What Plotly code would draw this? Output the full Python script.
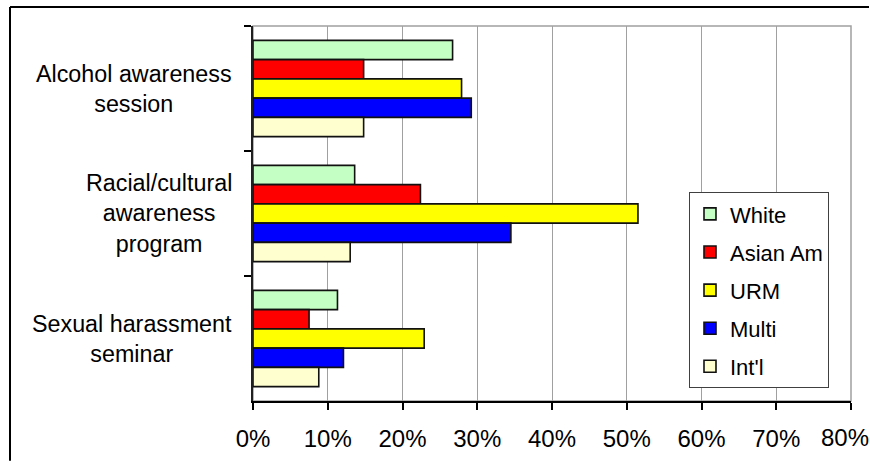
import plotly.graph_objects as go

categories = ["Alcohol awareness session", "Racial/cultural awareness program", "Sexual harassment seminar"]
category_labels = ["Alcohol awareness<br>session", "Racial/cultural<br>awareness<br>program", "Sexual harassment<br>seminar"]
series_names = ["White", "Asian Am", "URM", "Multi", "Int'l"]
white = [26.7, 13.6, 11.3]
asian_am = [14.8, 22.4, 7.5]
urm = [27.9, 51.5, 22.9]
multi = [29.2, 34.5, 12.1]
intl = [14.8, 13.0, 8.8]
x_ticks = [0, 10, 20, 30, 40, 50, 60, 70, 80]
x_tick_labels = [f"{v}%" for v in x_ticks]

series_values = [white, asian_am, urm, multi, intl]
colors = ["#C4FFC4", "#FF0000", "#FFFF00", "#0000FF", "#FFFFD0"]

FONT = "Liberation Sans, Arial, sans-serif"

fig = go.Figure()
for name, vals, col in zip(series_names, series_values, colors):
    fig.add_trace(go.Bar(
        y=categories, x=vals, name=name, orientation="h",
        legendgroup=name,
        marker=dict(color=col, line=dict(color="#111111", width=1.6)),
    ))

W, H = 870, 464
L, R, T, B = 253, 851, 26, 403  # plot area in page pixels
pw, ph = R - L, B - T

def px(x):
    return (x - L) / pw

def py(y):
    return (B - y) / ph

shapes = [
    dict(type="rect", xref="paper", yref="paper", x0=0, x1=1, y0=0, y1=1,
         line=dict(color="#A0A0A0", width=1.5), layer="below"),
    dict(type="line", xref="paper", yref="paper", x0=px(10), x1=px(869), y0=py(7), y1=py(7),
         line=dict(color="#000000", width=2), layer="below"),
    dict(type="line", xref="paper", yref="paper", x0=px(10), x1=px(10), y0=py(7), y1=py(463),
         line=dict(color="#000000", width=2), layer="below"),
]

annotations = []
for cat, lab in zip(categories, category_labels):
    annotations.append(dict(
        xref="paper", yref="y", x=px(234), y=cat, xanchor="right", yanchor="middle",
        text=lab, align="center", showarrow=False,
        font=dict(family=FONT, size=23.3, color="#000000"),
    ))

# the last tick label sits at the picture's right edge; keep it inside the page
shown_tick_text = x_tick_labels[:-1] + [""]
annotations.append(dict(
    xref="paper", yref="paper", x=px(870), y=py(440), xanchor="right", yanchor="middle",
    text=x_tick_labels[-1], showarrow=False, borderpad=0,
    font=dict(family=FONT, size=24, color="#000000"),
))

fig.update_layout(
    width=W, height=H,
    margin=dict(l=L, r=W - R, t=T, b=H - B, pad=0),
    paper_bgcolor="white", plot_bgcolor="white",
    barmode="group", bargap=0.23, bargroupgap=0,
    font=dict(family=FONT, size=23, color="#000000"),
    showlegend=True,
    legend=dict(
        x=px(689), y=py(193), xanchor="left", yanchor="top",
        bgcolor="white", bordercolor="#404040", borderwidth=1,
        font=dict(family=FONT, size=22, color="#000000"),
        traceorder="grouped", tracegroupgap=6.5,
    ),
    xaxis=dict(
        range=[0, 80], tickvals=x_ticks, ticktext=shown_tick_text,
        tickfont=dict(family=FONT, size=24, color="#000000"),
        showgrid=True, gridcolor="#A0A0A0", gridwidth=1,
        showline=True, linecolor="#000000", linewidth=1.5,
        ticks="outside", ticklen=7, tickcolor="#000000", tickwidth=1.5,
        zeroline=False, ticklabelstandoff=8,
        fixedrange=True,
    ),
    yaxis=dict(
        categoryorder="array", categoryarray=categories, autorange="reversed",
        showticklabels=False, showgrid=False,
        showline=True, linecolor="#202020", linewidth=2,
        ticks="outside", ticklen=7, tickcolor="#000000", tickwidth=1.5,
        tickson="boundaries", zeroline=False, fixedrange=True,
    ),
    shapes=shapes, annotations=annotations,
)

fig.write_html(
    "out.html",
    config={"displayModeBar": False},
    post_script="document.body.style.margin='0';document.body.style.overflow='hidden';",
)
